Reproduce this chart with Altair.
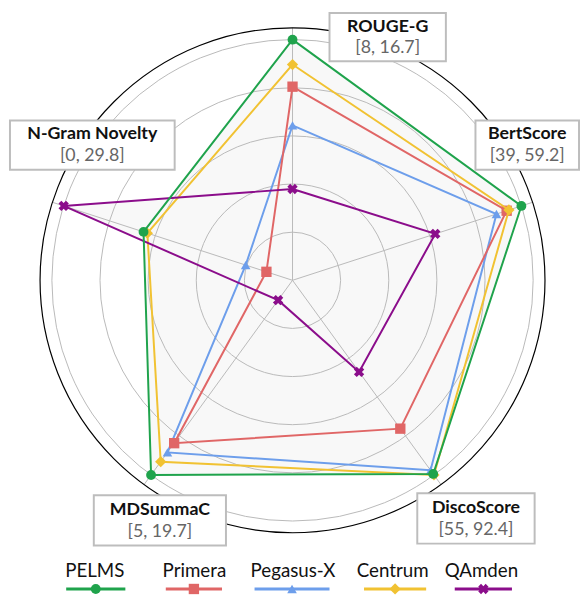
import math
import altair as alt
import pandas as pd

# ------------------------------------------------------------------ data
metrics = ["ROUGE-G", "BertScore", "DiscoScore", "MDSummaC", "N-Gram Novelty"]
range_labels = ["[8, 16.7]", "[39, 59.2]", "[55, 92.4]", "[5, 19.7]", "[0, 29.8]"]
metric_min = [8, 39, 55, 5, 0]
metric_max = [16.7, 59.2, 92.4, 19.7, 29.8]

models = ["PELMS", "Primera", "Pegasus-X", "Centrum", "QAmden"]
pelms = [16.7, 59.2, 92.2, 19.7, 19.4]
primera = [15.0, 57.9, 83.5, 17.3, 3.4]
pegasus_x = [13.6, 57.0, 91.5, 18.0, 6.1]
centrum = [15.8, 58.1, 92.4, 18.7, 18.9]
qamden = [11.3, 51.6, 72.6, 6.5, 29.8]
scores = {"PELMS": pelms, "Primera": primera, "Pegasus-X": pegasus_x,
          "Centrum": centrum, "QAmden": qamden}

# ------------------------------------------------------------------ style / layout
colors = {"PELMS": "#1fa34c", "Primera": "#e06666", "Pegasus-X": "#6d9eeb",
          "Centrum": "#f1c232", "QAmden": "#8b0d8b"}
X_PATH = ("M-1,-0.45L-0.45,-1L0,-0.55L0.45,-1L1,-0.45L0.55,0L1,0.45L0.45,1"
          "L0,0.55L-0.45,1L-1,0.45L-0.55,0Z")
shapes = {"PELMS": "circle", "Primera": "square", "Pegasus-X": "triangle-up",
          "Centrum": "diamond", "QAmden": X_PATH}
sizes = {"PELMS": 100, "Primera": 110, "Pegasus-X": 95, "Centrum": 130, "QAmden": 110}
draw_order = ["Pegasus-X", "Primera", "Centrum", "QAmden", "PELMS"]

W, H = 580, 587           # whole svg (page margin 8px)
CX, CY = 296.5, 280.0     # centre of the radar in page pixels
R = 244.0                 # radius of value == max
R_FRAME = 256.0           # black outer frame
N_RINGS = 5
angles = [math.radians(90 - 72 * i) for i in range(len(metrics))]
GRID = "#b9b9b9"
FONT = "Lato"

# label boxes in page pixels: (x0, x1, y0, y1, title_y, range_y)
boxes = {
    "ROUGE-G": (334, 452, 9, 58, 23, 45),
    "BertScore": (482, 587, 118, 168, 132, 154),
    "DiscoScore": (423, 542, 496, 547, 511, 533),
    "MDSummaC": (95, 229, 498, 549, 513, 535),
    "N-Gram Novelty": (10, 177, 118, 168, 132, 154),
}
# legend in page pixels: (text_cx, line_x0, line_x1)
legend_pos = {
    "PELMS": (96, 67, 127),
    "Primera": (197, 168, 225),
    "Pegasus-X": (297, 258, 334),
    "Centrum": (398, 369, 432),
    "QAmden": (488, 461, 519),
}
LEG_TEXT_Y, LEG_LINE_Y = 575, 593


def px(ix):
    return ix - CX


def py(iy):
    return CY - iy


xs = alt.Scale(domain=[8 - CX, 8 + W - CX], nice=False, zero=False)
ys = alt.Scale(domain=[CY - 8 - H, CY - 8], nice=False, zero=False)


def X(f="x"):
    return alt.X(f"{f}:Q", scale=xs, axis=None)


def Y(f="y"):
    return alt.Y(f"{f}:Q", scale=ys, axis=None)


# ------------------------------------------------------------------ series geometry
rows = []
for m in models:
    for i, v in enumerate(scores[m]):
        r = (v - metric_min[i]) / (metric_max[i] - metric_min[i]) * R
        rows.append({"model": m, "i": i, "value": v,
                     "x": r * math.cos(angles[i]), "y": r * math.sin(angles[i])})
series = pd.DataFrame(rows)

layers = []

# light grey fill (union of all polygons)
layers.append(
    alt.Chart(series).mark_line(interpolate="linear-closed", fill="#f8f8f8",
                                stroke="#f8f8f8", strokeWidth=0.5)
    .encode(x=X(), y=Y(), detail="model:N", order="i:Q")
)

# grid rings
rings = pd.DataFrame({"x": [0.0] * N_RINGS, "y": [0.0] * N_RINGS,
                      "s": [(2 * R * k / N_RINGS) ** 2 for k in range(1, N_RINGS + 1)]})
layers.append(
    alt.Chart(rings).mark_point(shape="circle", filled=False, opacity=1,
                                color=GRID, strokeWidth=1)
    .encode(x=X(), y=Y(), size=alt.Size("s:Q", scale=None, legend=None))
)

# spokes
spokes = pd.DataFrame({"x": [0.0] * 5, "y": [0.0] * 5,
                       "x2": [R_FRAME * math.cos(a) for a in angles],
                       "y2": [R_FRAME * math.sin(a) for a in angles]})
layers.append(
    alt.Chart(spokes).mark_rule(color=GRID, strokeWidth=1)
    .encode(x=X(), y=Y(), x2="x2:Q", y2="y2:Q")
)

# frame
frame = pd.DataFrame({"x": [0.0], "y": [0.0], "s": [(2 * R_FRAME) ** 2]})
layers.append(
    alt.Chart(frame).mark_point(shape="circle", filled=False, opacity=1,
                                color="#000000", strokeWidth=1.2)
    .encode(x=X(), y=Y(), size=alt.Size("s:Q", scale=None, legend=None))
)

# series lines + markers
for m in draw_order:
    d = series[series.model == m]
    layers.append(
        alt.Chart(d).mark_line(interpolate="linear-closed", color=colors[m], strokeWidth=2)
        .encode(x=X(), y=Y(), order="i:Q")
    )
    layers.append(
        alt.Chart(d).mark_point(filled=True, opacity=1, color=colors[m],
                                shape=shapes[m], size=sizes[m])
        .encode(x=X(), y=Y())
    )

# label boxes & texts
bx = pd.DataFrame([{"metric": k, "range": range_labels[metrics.index(k)],
                    "x": px(b[0]), "x2": px(b[1]), "y": py(b[2]), "y2": py(b[3]),
                    "cx": px((b[0] + b[1]) / 2), "ty": py(b[4]), "ry": py(b[5])}
                   for k, b in boxes.items()])
layers.append(
    alt.Chart(bx).mark_rect(fill="white", stroke="#bdbdbd", strokeWidth=2)
    .encode(x=X(), y=Y(), x2="x2:Q", y2="y2:Q")
)
layers.append(
    alt.Chart(bx).mark_text(font=FONT, fontSize=18, fontWeight="bold", color="#111111",
                            align="center", baseline="middle")
    .encode(x=X("cx"), y=Y("ty"), text="metric:N")
)
layers.append(
    alt.Chart(bx).mark_text(font=FONT, fontSize=18, color="#666666",
                            align="center", baseline="middle")
    .encode(x=X("cx"), y=Y("ry"), text="range:N")
)

# legend
leg = pd.DataFrame([{"model": m, "tx": px(p[0]), "ty": py(LEG_TEXT_Y),
                     "x": px(p[1]), "x2": px(p[2]), "y": py(LEG_LINE_Y),
                     "mx": px((p[1] + p[2]) / 2)} for m, p in legend_pos.items()])
layers.append(
    alt.Chart(leg).mark_text(font=FONT, fontSize=19, color="#111111",
                             align="center", baseline="middle")
    .encode(x=X("tx"), y=Y("ty"), text="model:N")
)
for m in models:
    d = leg[leg.model == m]
    layers.append(
        alt.Chart(d).mark_rule(color=colors[m], strokeWidth=3)
        .encode(x=X(), y=Y(), x2="x2:Q")
    )
    layers.append(
        alt.Chart(d).mark_point(filled=True, opacity=1, color=colors[m],
                                shape=shapes[m], size=sizes[m])
        .encode(x=X("mx"), y=Y())
    )

chart = (
    alt.layer(*layers)
    .properties(width=W, height=H, autosize=alt.AutoSizeParams(type="none"),
                padding=0, background="white")
    .configure_view(strokeWidth=0)
)

chart.save("out.html", embed_options={"renderer": "svg", "actions": False})
